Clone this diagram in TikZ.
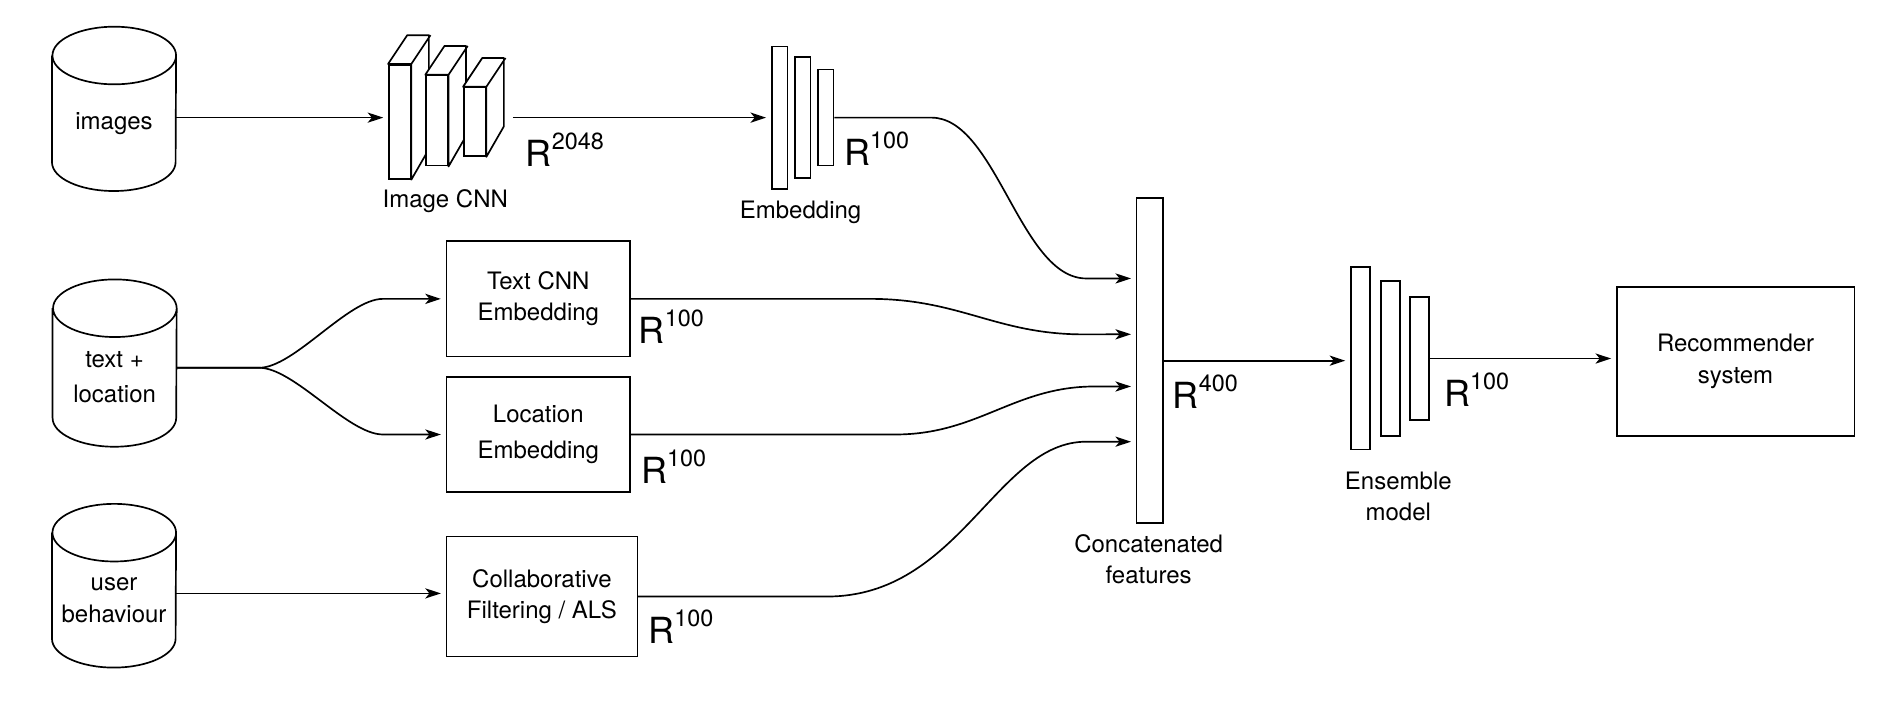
\documentclass[tikz,border=0pt]{standalone}
\usepackage{fontspec}
\setmainfont{TeX Gyre Heros}
\usetikzlibrary{arrows.meta}

\newcommand{\lab}{\fontsize{20}{26}\selectfont}
\newcommand{\dimR}[1]{{\fontsize{30}{30}\selectfont R\raisebox{0.47em}{\fontsize{19.5}{19.5}\selectfont #1}}}

\begin{document}
\begin{tikzpicture}[x=1pt, y=-1pt,
        every node/.style={align=center, font=\lab},
        db/.style={minimum width=103pt, inner sep=0},
        dbline/.style={draw, line width=1.4pt},
        blk/.style={draw, line width=1.4pt, minimum width=153pt, minimum height=96pt},
        slab/.style={draw, fill=white, line width=1.4pt, minimum width=18pt, inner sep=0},
        depth/.style={draw, fill=white, line width=1.4pt, line join=round},
        layer/.style={draw, fill=white, line width=1.4pt, inner sep=0},
        dimlab/.style={anchor=base west, inner sep=0},
        arr/.style={draw, line width=1.4pt, shorten >=4pt, -{Stealth[length=13pt, width=8.5pt, inset=3.5pt]}}
    ]
    \useasboundingbox (0,0) rectangle (1568,585);

    \node[db, minimum height=112.5pt] (img) at (95,102.7) {images};
    \node[db, minimum height=115pt] (txt) at (95.5,314.5) {text +\\[3pt]location};
    \node[db, minimum height=112pt] (usr) at (95,500) {user\\behaviour};
    \draw[dbline] (img.north west) -- ([yshift=24pt]img.south west) arc[start angle=180, end angle=360, x radius=51.5pt, y radius=24pt]
        -- (img.north east) arc[start angle=0, end angle=360, x radius=51.5pt, y radius=24pt];
    \draw[dbline] (txt.north west) -- ([yshift=24pt]txt.south west) arc[start angle=180, end angle=360, x radius=51.5pt, y radius=24pt]
        -- (txt.north east) arc[start angle=0, end angle=360, x radius=51.5pt, y radius=24pt];
    \draw[dbline] (usr.north west) -- ([yshift=24pt]usr.south west) arc[start angle=180, end angle=360, x radius=51.5pt, y radius=24pt]
        -- (usr.north east) arc[start angle=0, end angle=360, x radius=51.5pt, y radius=24pt];

    \node[slab, minimum height=95pt] (cnna) at (333,101.5) {};
    \draw[depth] (cnna.north west) -- ++(16,-24) -- ++(18,0) -- ++(0,95) -- (cnna.south east) -- (cnna.north east) -- cycle
        (cnna.north east) -- ++(16,-24);
    \node[slab, minimum height=75pt] (cnnb) at (364,100.5) {};
    \draw[depth] (cnnb.north west) -- ++(16,-24) -- ++(18,0) -- ++(0,75) -- (cnnb.south east) -- (cnnb.north east) -- cycle
        (cnnb.north east) -- ++(16,-24);
    \node[slab, minimum height=57pt] (cnnc) at (395.5,101.5) {};
    \draw[depth] (cnnc.north west) -- ++(16,-24) -- ++(18,0) -- ++(0,57) -- (cnnc.south east) -- (cnnc.north east) -- cycle
        (cnnc.north east) -- ++(16,-24);
    \node at (371,168) {Image CNN};

    \node[layer, minimum width=13pt, minimum height=118.5pt] (emba) at (649.5,98) {};
    \node[layer, minimum width=13pt, minimum height=100.5pt] (embb) at (668.7,98) {};
    \node[layer, minimum width=13pt, minimum height=80pt] (embc) at (687.9,98) {};
    \node at (667,177) {Embedding};

    \node[blk] (tcnn) at (448.5,249) {Text CNN\\Embedding};
    \node[blk] (loc) at (448.5,362) {Location\\[3.5pt]Embedding};
    \node[blk, minimum width=159pt, minimum height=100pt] (cf) at (451.5,497) {Collaborative\\Filtering / ALS};

    \node[layer, minimum width=22pt, minimum height=271pt] (cat) at (958,300.5) {};
    \node at (957,466) {Concatenated\\features};

    \node[layer, minimum width=16pt, minimum height=152pt] (ensa) at (1133.5,298.5) {};
    \node[layer, minimum width=16pt, minimum height=129pt] (ensb) at (1158.5,298.5) {};
    \node[layer, minimum width=16pt, minimum height=103pt] (ensc) at (1182.5,298.7) {};
    \node at (1165,413.5) {Ensemble\\model};

    \node[blk, minimum width=198pt, minimum height=124pt] (rec) at (1446,301) {Recommender\\system};

    \node[dimlab] at (438,139) {\dimR{2048}};
    \node[dimlab] at (703,137.5) {\dimR{100}};
    \node[dimlab] at (532,286) {\dimR{100}};
    \node[dimlab] at (534,403) {\dimR{100}};
    \node[dimlab] at (540,536) {\dimR{100}};
    \node[dimlab] at (977,340) {\dimR{400}};
    \node[dimlab] at (1203,339) {\dimR{100}};

    \coordinate (fork) at (216,306.4);

    \draw[arr] ([yshift=4.7pt]img.east) -- ([yshift=4.7pt]img.east -| cnna.west);
    \draw[arr] ([xshift=22pt, yshift=3.5pt]cnnc.east) -- (emba.west);
    \draw[arr] ([yshift=8.1pt]txt.east) -- (fork) .. controls (245,306.4) and (290,249) .. (319,249) -- (tcnn.west);
    \draw[arr] ([yshift=8.1pt]txt.east) -- (fork) .. controls (245,306.4) and (290,362) .. (319,362) -- (loc.west);
    \draw[arr] ([yshift=5.6pt]usr.east) -- ([yshift=5.6pt]usr.east -| cf.west);

    \draw[arr] (embc.east) -- (776,98) .. controls (830,98) and (850,232) .. (905,232) -- ([yshift=68.5pt]cat.west);
    \draw[arr] (tcnn.east) -- (725,249) .. controls (800,249) and (830,278.6) .. (903,278.6) -- ([yshift=22pt]cat.west);
    \draw[arr] (loc.east) -- (746,362) .. controls (815,362) and (845,322) .. (912,322) -- ([yshift=-21.5pt]cat.west);
    \draw[arr] (cf.east) -- (689,497) .. controls (800,497) and (830,368) .. (905,368) -- ([yshift=-67.5pt]cat.west);

    \draw[arr] (cat.east) -- (cat.east -| ensa.west);
    \draw[arr] (ensc.east) -- (ensc.east -| rec.west);
\end{tikzpicture}
\end{document}
